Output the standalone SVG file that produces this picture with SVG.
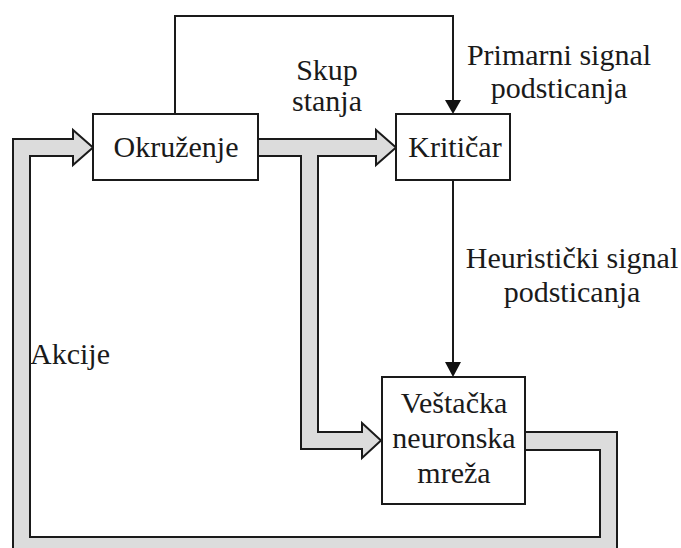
<svg xmlns="http://www.w3.org/2000/svg" width="681" height="548" viewBox="0 0 681 548">
<style>
.box{fill:#ffffff;stroke:#1a1a1a;stroke-width:2}
.wide{fill:#dcdcdc;stroke:#1a1a1a;stroke-width:2;stroke-linejoin:miter}
.line{fill:none;stroke:#1a1a1a;stroke-width:2}
.head{fill:#111111;stroke:none}
text{font-family:"Liberation Serif","Times New Roman",serif;font-size:30px;fill:#1a1a1a}
.c{text-anchor:middle}
</style>
<rect width="681" height="548" fill="#ffffff"/>
<g id="connectors">
  <polygon class="wide" points="525,432 617,432 617,556 13,556 13,139 73,139 73,130 93,147.5 73,165 73,156 30,156 30,537 600,537 600,450 525,450"/>
  <polygon class="wide" points="258,139 376,139 376,130 396,147.5 376,165 376,156 318,156 318,432 362,432 362,423 381,440.5 362,458 362,449 301,449 301,156 258,156"/>
  <polyline class="line" points="175,114 175,16 453,16 453,101"/>
  <polygon class="head" points="445,100 461,100 453,114"/>
  <line class="line" x1="453" y1="180" x2="453" y2="364"/>
  <polygon class="head" points="445,362 461,362 453,377"/>
</g>
<g id="okruzenje">
  <rect class="box" x="93" y="114" width="165" height="66"/>
  <text class="c" x="176" y="157">Okruženje</text>
</g>
<g id="kriticar">
  <rect class="box" x="396" y="114" width="114" height="66"/>
  <text class="c" x="455" y="157">Kritičar</text>
</g>
<g id="mreza">
  <rect class="box" x="382" y="377" width="143" height="127"/>
  <text class="c" x="454" y="413">Veštačka</text>
  <text class="c" x="454" y="448">neuronska</text>
  <text class="c" x="454" y="483">mreža</text>
</g>
<g id="labels">
  <text class="c" x="327" y="80">Skup</text>
  <text class="c" x="327" y="111">stanja</text>
  <text class="c" x="559" y="65">Primarni signal</text>
  <text class="c" x="559" y="98">podsticanja</text>
  <text class="c" x="572" y="268">Heuristički signal</text>
  <text class="c" x="572" y="302">podsticanja</text>
  <text x="30" y="364">Akcije</text>
</g>
</svg>
